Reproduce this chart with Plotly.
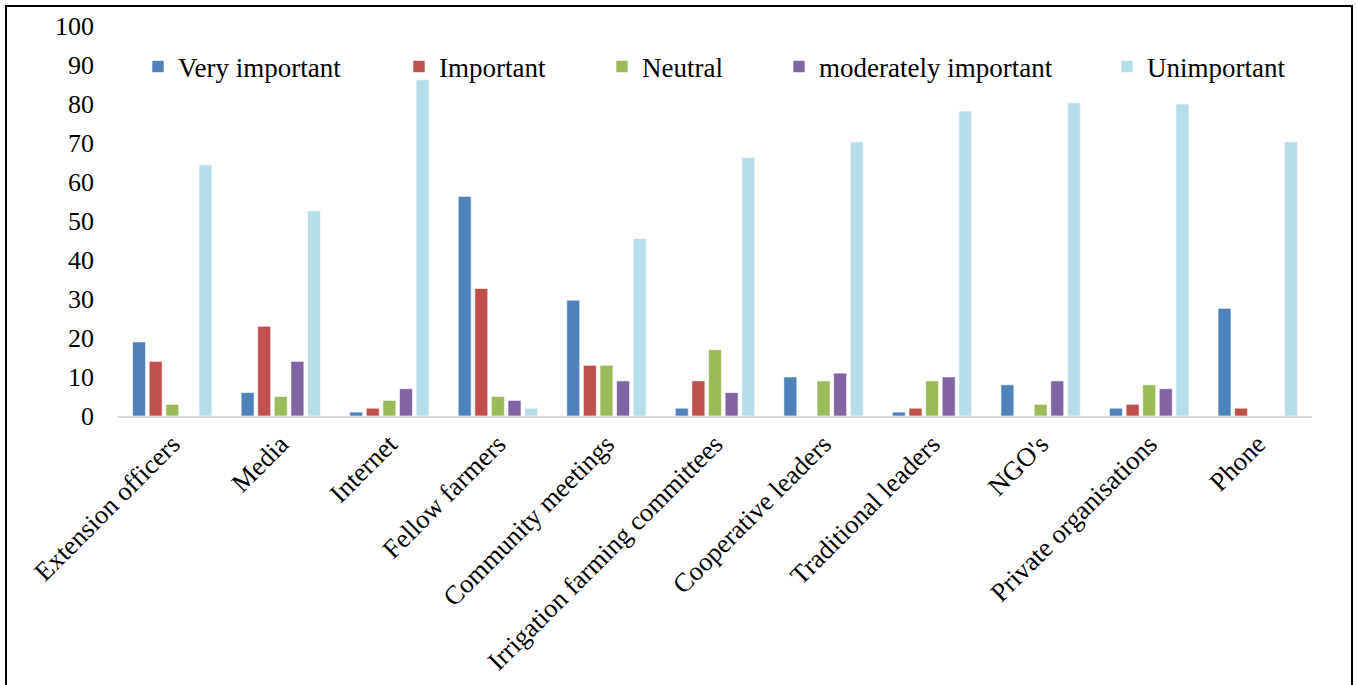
import plotly.graph_objects as go

categories = ["Extension officers", "Media", "Internet", "Fellow farmers", "Community meetings",
              "Irrigation farming committees", "Cooperative leaders", "Traditional leaders",
              "NGO's", "Private organisations", "Phone"]
very_important = [19, 6, 1, 56.3, 29.7, 2, 10, 1, 8, 2, 27.6]
important = [14, 23, 2, 32.7, 13, 9, 0, 2, 0, 3, 2]
neutral = [3, 5, 4, 5, 13, 17, 9, 9, 3, 8, 0]
moderately_important = [0, 14, 7, 4, 9, 6, 11, 10, 9, 7, 0]
unimportant = [64.4, 52.6, 86.2, 2, 45.5, 66.3, 70.3, 78.2, 80.3, 80, 70.3]
y_ticks = [0, 10, 20, 30, 40, 50, 60, 70, 80, 90, 100]

series = [
    ("Very important", very_important, "#4F81BD"),
    ("Important", important, "#C0504D"),
    ("Neutral", neutral, "#9BBB59"),
    ("moderately important", moderately_important, "#8064A2"),
    ("Unimportant", unimportant, "#B7DEE8"),
]

W, H = 1357, 685
L, R, T, B = 118, 45, 26, 269
pw = W - L - R
ph = H - T - B
font = "Liberation Serif, Times New Roman, serif"

legend_px = [138, 399, 602, 779, 1107]

fig = go.Figure()
for i, (name, vals, col) in enumerate(series):
    fig.add_trace(go.Bar(
        x=categories, y=vals, name=name,
        marker=dict(color=col, line=dict(color="rgba(255,255,255,0.6)", width=1)),
        legend="legend" if i == 0 else f"legend{i+1}",
    ))

layout_legends = {}
for i, px in enumerate(legend_px):
    key = "legend" if i == 0 else f"legend{i+1}"
    layout_legends[key] = dict(
        x=(px - L) / pw, y=(416 - 67) / ph, xanchor="left", yanchor="middle",
        orientation="h", font=dict(family=font, size=27, color="black"),
        bgcolor="rgba(0,0,0,0)", borderwidth=0,
    )

fig.update_layout(
    width=W, height=H,
    margin=dict(l=L, r=R, t=T, b=B, autoexpand=False),
    paper_bgcolor="white", plot_bgcolor="white",
    barmode="group", bargap=0.235, bargroupgap=0.22,
    showlegend=True,
    font=dict(family=font, size=26, color="black"),
    xaxis=dict(
        showgrid=False, showline=True, linecolor="#D9D9D9", linewidth=2,
        ticks="", tickangle=-45, tickfont=dict(family=font, size=26.5, color="black"),
    ),
    yaxis=dict(
        range=[0, 100], tickvals=y_ticks, showgrid=False, showline=False, zeroline=False,
        ticks="", ticklabelstandoff=23, tickfont=dict(family=font, size=26, color="black"),
    ),
    shapes=[dict(type="rect", xref="paper", yref="paper",
                 x0=(6 - L) / pw, x1=(1352 - L) / pw,
                 y0=-0.75, y1=(416 - 6) / ph,
                 line=dict(color="black", width=2), fillcolor="rgba(0,0,0,0)", layer="below")],
    **layout_legends,
)

fig.write_html("out.html")
